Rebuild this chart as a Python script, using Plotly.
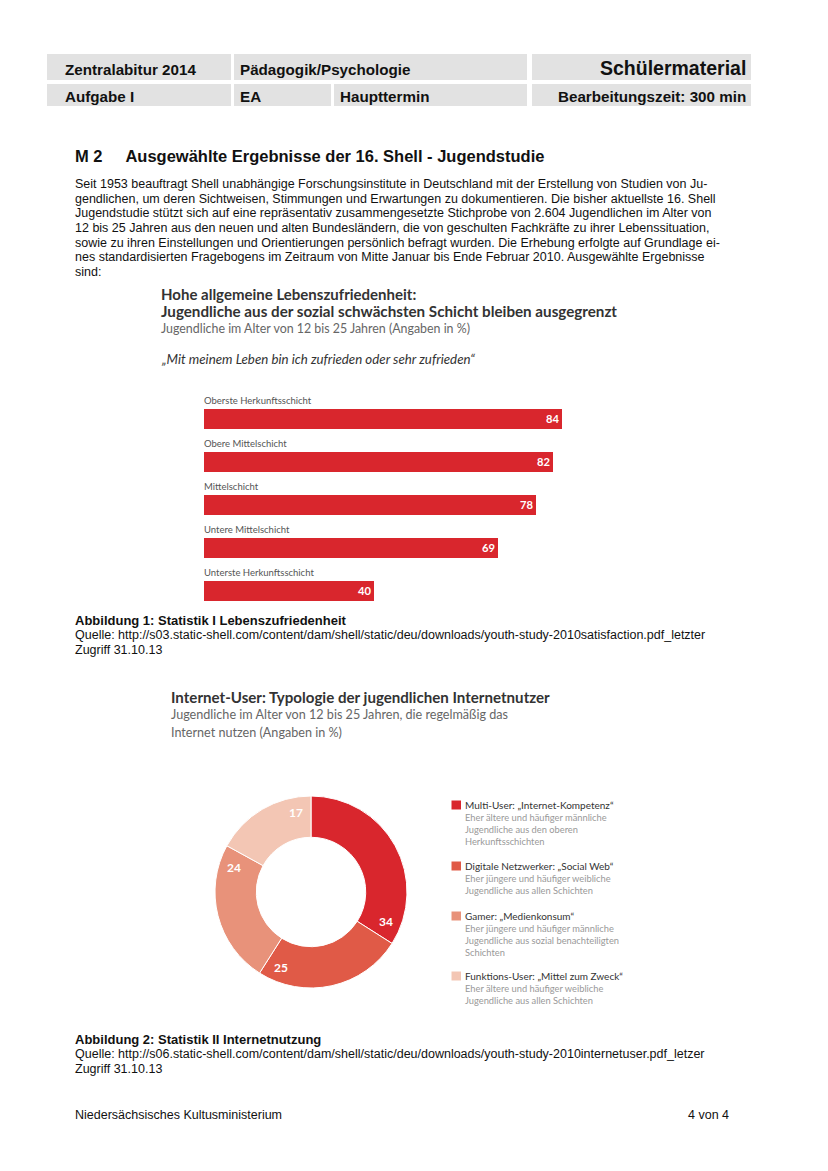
import math
import plotly.graph_objects as go

W, H = 828, 1171
OFF = 8  # default page body margin in the browser

# ---------------- data ----------------
header_row1 = ["Zentralabitur 2014", "Pädagogik/Psychologie", "Schülermaterial"]
header_row2 = ["Aufgabe I", "EA", "Haupttermin", "Bearbeitungszeit: 300 min"]

section_title = "M 2    Ausgewählte Ergebnisse der 16. Shell - Jugendstudie"
body_lines = [
    "Seit 1953 beauftragt Shell unabhängige Forschungsinstitute in Deutschland mit der Erstellung von Studien von Ju-",
    "gendlichen, um deren Sichtweisen, Stimmungen und Erwartungen zu dokumentieren. Die bisher aktuellste 16. Shell",
    "Jugendstudie stützt sich auf eine repräsentativ zusammengesetzte Stichprobe von 2.604 Jugendlichen im Alter von",
    "12 bis 25 Jahren aus den neuen und alten Bundesländern, die von geschulten Fachkräfte zu ihrer Lebenssituation,",
    "sowie zu ihren Einstellungen und Orientierungen persönlich befragt wurden. Die Erhebung erfolgte auf Grundlage ei-",
    "nes standardisierten Fragebogens im Zeitraum von Mitte Januar bis Ende Februar 2010. Ausgewählte Ergebnisse",
    "sind:",
]

bar_title = ["Hohe allgemeine Lebenszufriedenheit:",
             "Jugendliche aus der sozial schwächsten Schicht bleiben ausgegrenzt"]
bar_subtitle = "Jugendliche im Alter von 12 bis 25 Jahren (Angaben in %)"
bar_quote = "„Mit meinem Leben bin ich zufrieden oder sehr zufrieden“"
bar_categories = ["Oberste Herkunftsschicht", "Obere Mittelschicht", "Mittelschicht",
                  "Untere Mittelschicht", "Unterste Herkunftsschicht"]
bar_values = [84, 82, 78, 69, 40]

caption1 = ["Abbildung 1: Statistik I Lebenszufriedenheit",
            "Quelle: http://s03.static-shell.com/content/dam/shell/static/deu/downloads/youth-study-2010satisfaction.pdf_letzter",
            "Zugriff 31.10.13"]

pie_title = "Internet-User: Typologie der jugendlichen Internetnutzer"
pie_subtitle = ["Jugendliche im Alter von 12 bis 25 Jahren, die regelmäßig das",
                "Internet nutzen (Angaben in %)"]
pie_labels = ["Multi-User: „Internet-Kompetenz“", "Digitale Netzwerker: „Social Web“",
              "Gamer: „Medienkonsum“", "Funktions-User: „Mittel zum Zweck“"]
pie_values = [34, 25, 24, 17]
pie_colors = ["#d9262d", "#e05a47", "#e8927a", "#f3c6b4"]
pie_desc = [
    ["Eher ältere und häufiger männliche", "Jugendliche aus den oberen", "Herkunftsschichten"],
    ["Eher jüngere und häufiger weibliche", "Jugendliche aus allen Schichten"],
    ["Eher jüngere und häufiger männliche", "Jugendliche aus sozial benachteiligten", "Schichten"],
    ["Eher ältere und häufiger weibliche", "Jugendliche aus allen Schichten"],
]

caption2 = ["Abbildung 2: Statistik II Internetnutzung",
            "Quelle: http://s06.static-shell.com/content/dam/shell/static/deu/downloads/youth-study-2010internetuser.pdf_letzer",
            "Zugriff 31.10.13"]
footer_left = "Niedersächsisches Kultusministerium"
footer_right = "4 von 4"

BAR_RED = "#d9262d"
DOC_FONT = "Liberation Sans"
CHART_FONT = "Lato"


def px(x):
    return (x - OFF) / W


def py(y):
    return 1 - (y - OFF) / H


fig = go.Figure()
annotations = []
shapes = []


def text(x, y, s, size=12, color="#111", bold=False, anchor="left", family=DOC_FONT, italic=False):
    if bold:
        s = "<b>" + s + "</b>"
    if italic:
        s = "<i>" + s + "</i>"
    annotations.append(dict(x=px(x), y=py(y), xref="paper", yref="paper", text=s,
                            showarrow=False, xanchor=anchor, yanchor="middle",
                            font=dict(size=size, color=color, family=family)))


# ---------------- header ----------------
GRAY = "#e2e2e2"
for (x0, x1) in [(47, 231), (234, 527), (532, 751)]:
    shapes.append(dict(type="rect", xref="paper", yref="paper", x0=px(x0), x1=px(x1),
                       y0=py(80), y1=py(54), fillcolor=GRAY, line=dict(width=0), layer="below"))
for (x0, x1) in [(47, 231), (234, 331), (334, 527), (532, 751)]:
    shapes.append(dict(type="rect", xref="paper", yref="paper", x0=px(x0), x1=px(x1),
                       y0=py(106), y1=py(84), fillcolor=GRAY, line=dict(width=0), layer="below"))

text(63, 70, header_row1[0], 15.2, bold=True)
text(238, 70, header_row1[1], 15.2, bold=True)
text(748, 68, header_row1[2], 19.5, bold=True, anchor="right")
text(63, 96, header_row2[0], 15.2, bold=True)
text(238, 96, header_row2[1], 15.2, bold=True)
text(338, 96, header_row2[2], 15.2, bold=True)
text(748, 96, header_row2[3], 15.2, bold=True, anchor="right")

# ---------------- section title + body ----------------
text(73, 156, section_title.replace("    ", "&nbsp;&nbsp;&nbsp;&nbsp;&nbsp;"), 16.5, bold=True)
for i, line in enumerate(body_lines):
    text(73, 184 + i * 14.7, line, 12.5)

# ---------------- bar chart ----------------
text(159, 294, bar_title[0], 15, color="#333", bold=True, family=CHART_FONT)
text(159, 311, bar_title[1], 15.2, color="#333", bold=True, family=CHART_FONT)
text(159, 328, bar_subtitle, 12.4, color="#666", family=CHART_FONT)
text(159, 359, bar_quote, 13.3, color="#333", italic=True, family=CHART_FONT)

fig.add_trace(go.Bar(
    x=bar_values, y=bar_categories, orientation="h",
    marker=dict(color=BAR_RED, line=dict(width=0)),
    width=0.465,
    text=[str(v) for v in bar_values], textposition="inside", insidetextanchor="end",
    textangle=0,
    textfont=dict(color="white", size=12, family=CHART_FONT, weight="bold"),
    xaxis="x", yaxis="y", showlegend=False, hoverinfo="x+y",
))

for c in bar_categories:
    annotations.append(dict(x=0, y=c, xref="x", yref="y", text=c, showarrow=False,
                            xanchor="left", yanchor="middle", yshift=18, xshift=-2,
                            font=dict(size=9.5, color="#555", family=CHART_FONT)))

# ---------------- caption 1 ----------------
text(73, 620, caption1[0], 13, bold=True)
text(73, 635, caption1[1], 12.5)
text(73, 650, caption1[2], 12.5)

# ---------------- donut ----------------
text(169, 697, pie_title, 15.1, color="#333", bold=True, family=CHART_FONT)
text(169, 714, pie_subtitle[0], 12.6, color="#666", family=CHART_FONT)
text(169, 732, pie_subtitle[1], 12.6, color="#666", family=CHART_FONT)

CX, CY, R = 311, 892, 96
fig.add_trace(go.Pie(
    labels=pie_labels, values=pie_values, hole=0.57, sort=False, direction="clockwise",
    rotation=0, marker=dict(colors=pie_colors, line=dict(color="white", width=1)),
    textinfo="none", showlegend=False,
    domain=dict(x=[px(CX - R), px(CX + R)], y=[py(CY + R), py(CY - R)]),
))

total = sum(pie_values)
cum = 0
for v in pie_values:
    cum += v
    ang = math.radians(cum / total * 360 - 11)
    lx = CX + 81 * math.sin(ang)
    ly = CY - 81 * math.cos(ang)
    annotations.append(dict(x=px(lx), y=py(ly), xref="paper", yref="paper", text=f"<b>{v}</b>",
                            showarrow=False, xanchor="center", yanchor="middle",
                            font=dict(size=12, color="white", family=CHART_FONT)))

# legend (custom)
legend_title_y = [805, 866, 916, 976]
for i, lab in enumerate(pie_labels):
    ty = legend_title_y[i]
    shapes.append(dict(type="rect", xref="paper", yref="paper", x0=px(451.5), x1=px(461),
                       y0=py(ty + 4.5), y1=py(ty - 4.5), fillcolor=pie_colors[i], line=dict(width=0)))
    text(463, ty, lab, 10, color="#333", family=CHART_FONT)
    for j, d in enumerate(pie_desc[i]):
        text(463, ty + 12 * (j + 1), d, 9.3, color="#999", family=CHART_FONT)

# ---------------- caption 2 + footer ----------------
text(73, 1039, caption2[0], 13, bold=True)
text(73, 1054, caption2[1], 12.5)
text(73, 1069, caption2[2], 12.5)
text(73, 1115, footer_left, 12.5)
text(731, 1115, footer_right, 12.5, anchor="right")

fig.update_layout(
    width=W, height=H, margin=dict(l=0, r=0, t=0, b=0),
    paper_bgcolor="white", plot_bgcolor="white",
    xaxis=dict(domain=[px(204), px(562)], range=[0, 84], visible=False, fixedrange=True),
    yaxis=dict(domain=[py(611.5), py(396.5)], type="category", categoryorder="array",
               categoryarray=bar_categories, range=[4.5, -0.5], visible=False, fixedrange=True),
    annotations=annotations, shapes=shapes, bargap=0,
    uniformtext=dict(minsize=8, mode="show"),
)

fig.write_html("out.html")
